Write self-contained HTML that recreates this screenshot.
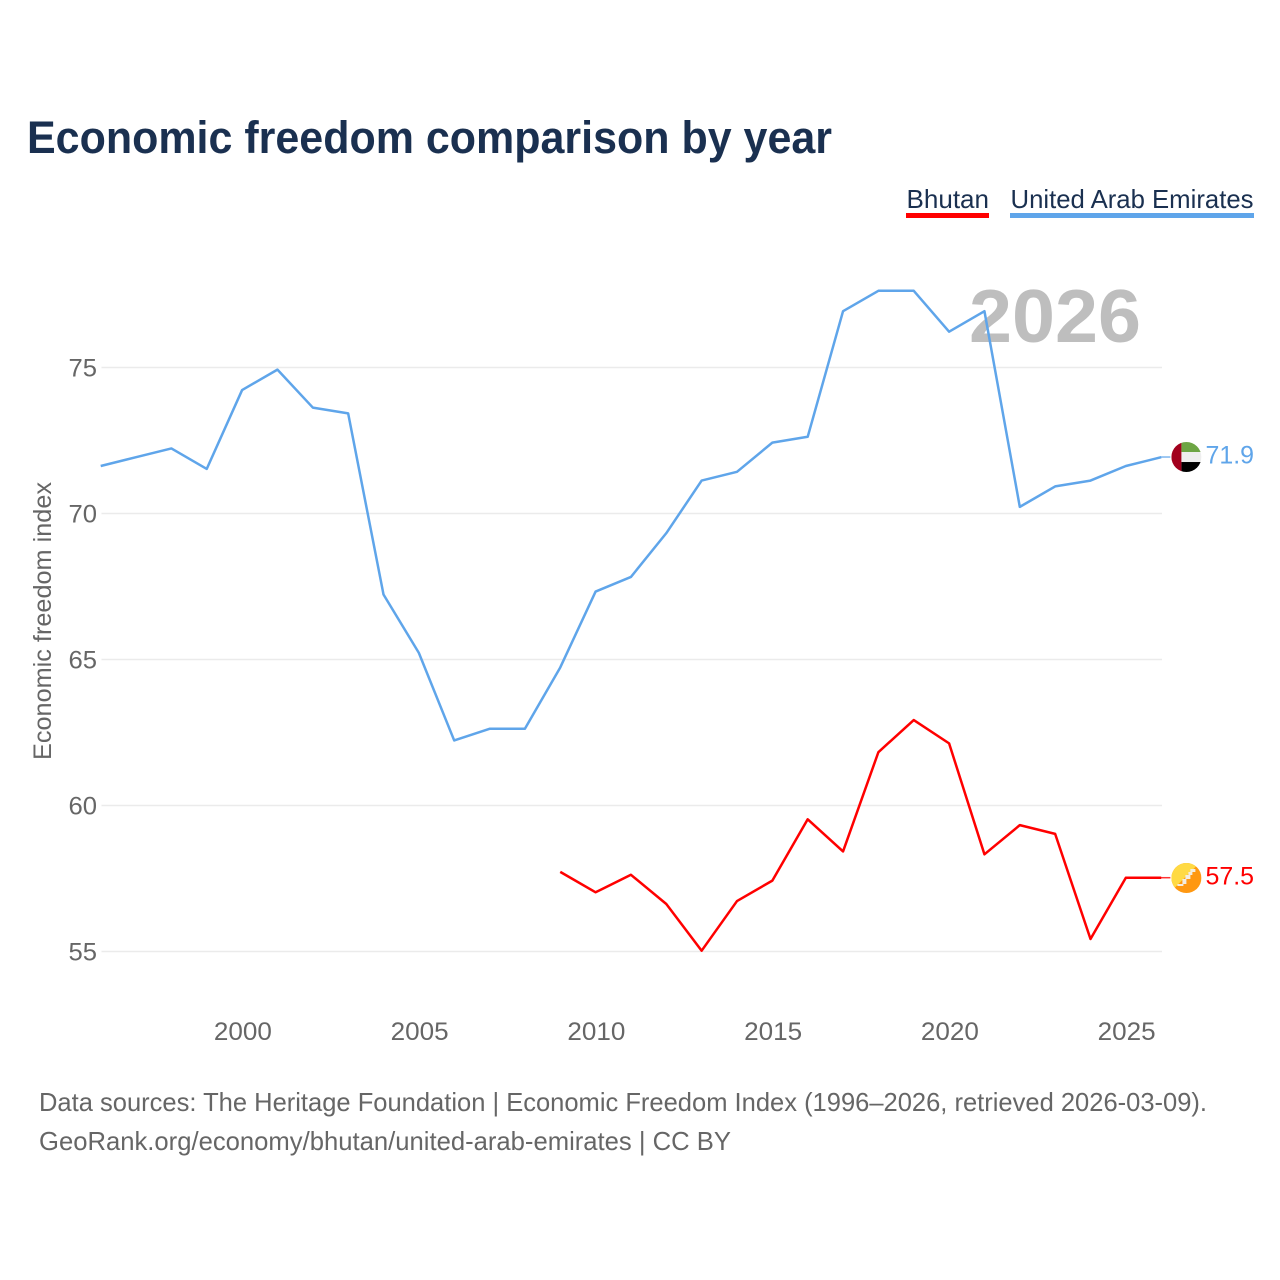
<!DOCTYPE html>
<html><head><meta charset="utf-8">
<style>
html,body{margin:0;padding:0;background:#fff}
svg{display:block}
text{font-family:"Liberation Sans",sans-serif}
</style></head>
<body>
<svg id="chart" xmlns="http://www.w3.org/2000/svg" width="1280" height="1280" viewBox="0 0 1280 1280">
<rect width="1280" height="1280" fill="#fff"/>
<text x="27" y="153" font-size="45" font-weight="700" fill="#1a3050" textLength="805" lengthAdjust="spacingAndGlyphs">Economic freedom comparison by year</text>
<g>
<text x="906.5" y="208" font-size="26" fill="#1a3050" textLength="82.5" lengthAdjust="spacingAndGlyphs">Bhutan</text>
<rect x="906" y="213" width="83" height="5" fill="#ff0000"/>
</g>
<g>
<text x="1010.5" y="208" font-size="26" fill="#1a3050" textLength="243" lengthAdjust="spacingAndGlyphs">United Arab Emirates</text>
<rect x="1010" y="213" width="244" height="5" fill="#5fa5ea"/>
</g>
<g id="grid"></g>
<g id="yticks"></g>
<g id="xticks"></g>
<text x="969" y="342" font-size="75" font-weight="700" fill="#bebebe" textLength="172" lengthAdjust="spacingAndGlyphs">2026</text>
<text transform="translate(51,621) rotate(-90)" text-anchor="middle" font-size="25" fill="#666666" textLength="278" lengthAdjust="spacingAndGlyphs">Economic freedom index</text>
<path id="line-uae" transform="translate(-0.8,-0.8)" fill="none" stroke="#5fa5ea" stroke-width="2.5" stroke-linejoin="round"/>
<path id="line-bhutan" transform="translate(-0.8,-0.8)" fill="none" stroke="#ff0000" stroke-width="2.5" stroke-linejoin="round"/>
<defs>
<clipPath id="clip-uae"><circle id="cu" r="15"/></clipPath>
<clipPath id="clip-btn"><circle id="cb" r="15"/></clipPath>
</defs>
<g id="flag-uae"></g>
<g id="flag-btn"></g>
<text id="end-uae" x="1205.5" font-size="25" fill="#5fa5ea" textLength="48.5" lengthAdjust="spacingAndGlyphs"></text>
<text id="end-btn" x="1205.5" font-size="25" fill="#ff0000" textLength="48.5" lengthAdjust="spacingAndGlyphs"></text>
<text x="39" y="1111" font-size="26" fill="#666666" textLength="1168" lengthAdjust="spacingAndGlyphs">Data sources: The Heritage Foundation | Economic Freedom Index (1996–2026, retrieved 2026-03-09).</text>
<text x="39" y="1150" font-size="26" fill="#666666" textLength="692" lengthAdjust="spacingAndGlyphs">GeoRank.org/economy/bhutan/united-arab-emirates | CC BY</text>
</svg>
<script>
const uaeYears = [1996,1997,1998,1999,2000,2001,2002,2003,2004,2005,2006,2007,2008,2009,2010,2011,2012,2013,2014,2015,2016,2017,2018,2019,2020,2021,2022,2023,2024,2025,2026];
const uaeValues = [71.6,71.9,72.2,71.5,74.2,74.9,73.6,73.4,67.2,65.2,62.2,62.6,62.6,64.7,67.3,67.8,69.3,71.1,71.4,72.4,72.6,76.9,77.6,77.6,76.2,76.9,70.2,70.9,71.1,71.6,71.9];
const bhutanYears = [2009,2010,2011,2012,2013,2014,2015,2016,2017,2018,2019,2020,2021,2022,2023,2024,2025,2026];
const bhutanValues = [57.7,57.0,57.6,56.6,55.0,56.7,57.4,59.5,58.4,61.8,62.9,62.1,58.3,59.3,59.0,55.4,57.5,57.5];
const yTicks = [55,60,65,70,75];
const xTicks = [2000,2005,2010,2015,2020,2025];

const NS = 'http://www.w3.org/2000/svg';
function xScale(year){ return 101.5 + (year - 1996) * (1162 - 101.5) / 30; }
function yScale(v){ return 951.5 - (v - 55) * (951.5 - 367.5) / 20; }
function linePath(xs, ys){ return xs.map((d,i)=>(i?'L':'M')+xScale(d).toFixed(2)+' '+yScale(ys[i]).toFixed(2)).join(' '); }
function make(tag, attrs, parent){
  const el = document.createElementNS(NS, tag);
  for (const k in attrs) el.setAttribute(k, attrs[k]);
  parent.appendChild(el);
  return el;
}
const grid = document.getElementById('grid');
const yt = document.getElementById('yticks');
const xt = document.getElementById('xticks');
yTicks.forEach(v => {
  const l = make('line', {x1:101.5, x2:1162, y1:yScale(v), y2:yScale(v), stroke:'#ebebeb', 'stroke-width':1.5}, grid);
  
  
  const t = make('text', {x:97, y:yScale(v)+9, 'text-anchor':'end', 'font-size':25, fill:'#666666', textLength:28.5, lengthAdjust:'spacingAndGlyphs'}, yt);
  
  
  t.textContent = v;
});
xTicks.forEach(v => {
  const t = make('text', {x:xScale(v), y:1040, 'text-anchor':'middle', 'font-size':25, fill:'#666666', textLength:58, lengthAdjust:'spacingAndGlyphs'}, xt);
  
  
  t.textContent = v;
});
document.getElementById('line-uae').setAttribute('d', linePath(uaeYears, uaeValues));
document.getElementById('line-bhutan').setAttribute('d', linePath(bhutanYears, bhutanValues));

const uaeLast = uaeValues[uaeValues.length-1];
const btnLast = bhutanValues[bhutanValues.length-1];
const fx = xScale(2026) + 24.4;
const uy = yScale(uaeLast) - 1, by = yScale(btnLast) - 0.5;
const cu = document.getElementById('cu'), cb = document.getElementById('cb');
cu.setAttribute('cx', fx); cu.setAttribute('cy', uy);
cb.setAttribute('cx', fx); cb.setAttribute('cy', by);

const fu = document.getElementById('flag-uae');
const connU = make('line', {x1:xScale(2026)-1, x2:fx-16, y1:uy, y2:uy, stroke:'#5fa5ea', 'stroke-width':1.5, opacity:0.8}, fu);


const gu = make('g', {'clip-path':'url(#clip-uae)'}, fu);


[[fx-5,uy-15,20,10,'#6da544'],[fx-5,uy-5,20,10,'#eeeeee'],[fx-5,uy+5,20,10,'#000000'],[fx-15,uy-15,10,30,'#a2001d']].forEach(r => {
  const s = make('rect', {x:r[0], y:r[1], width:r[2], height:r[3], fill:r[4]}, gu);
  
  
});

const fb = document.getElementById('flag-btn');
const connB = make('line', {x1:xScale(2026)-1, x2:fx-16, y1:by-0.3, y2:by-0.3, stroke:'#ff0000', 'stroke-width':1.5, opacity:0.8}, fb);


const gb = make('g', {'clip-path':'url(#clip-btn)'}, fb);


const b1 = make('rect', {x:fx-15, y:by-15, width:30, height:30, fill:'#ff9811'}, gb);


const b2 = make('path', {d:`M${fx-14} ${by+12}L${fx+12} ${by-14}L${fx+12} ${by-18}L${fx-18} ${by-18}L${fx-18} ${by+12}Z`, fill:'#ffda44'}, gb);


const b3 = make('path', {d:`M${fx-9} ${by+6}h5v-5h3v-4h3v-3h2v-3h5v3h-3v3h-2v4h-4v5h-3v2h-6Z`, fill:'#f3ede0'}, gb);



const eu = document.getElementById('end-uae');
eu.setAttribute('y', uy + 6.5);
eu.textContent = uaeLast.toFixed(1);
const eb = document.getElementById('end-btn');
eb.setAttribute('y', by + 6.5);
eb.textContent = btnLast.toFixed(1);
</script>
</body></html>
